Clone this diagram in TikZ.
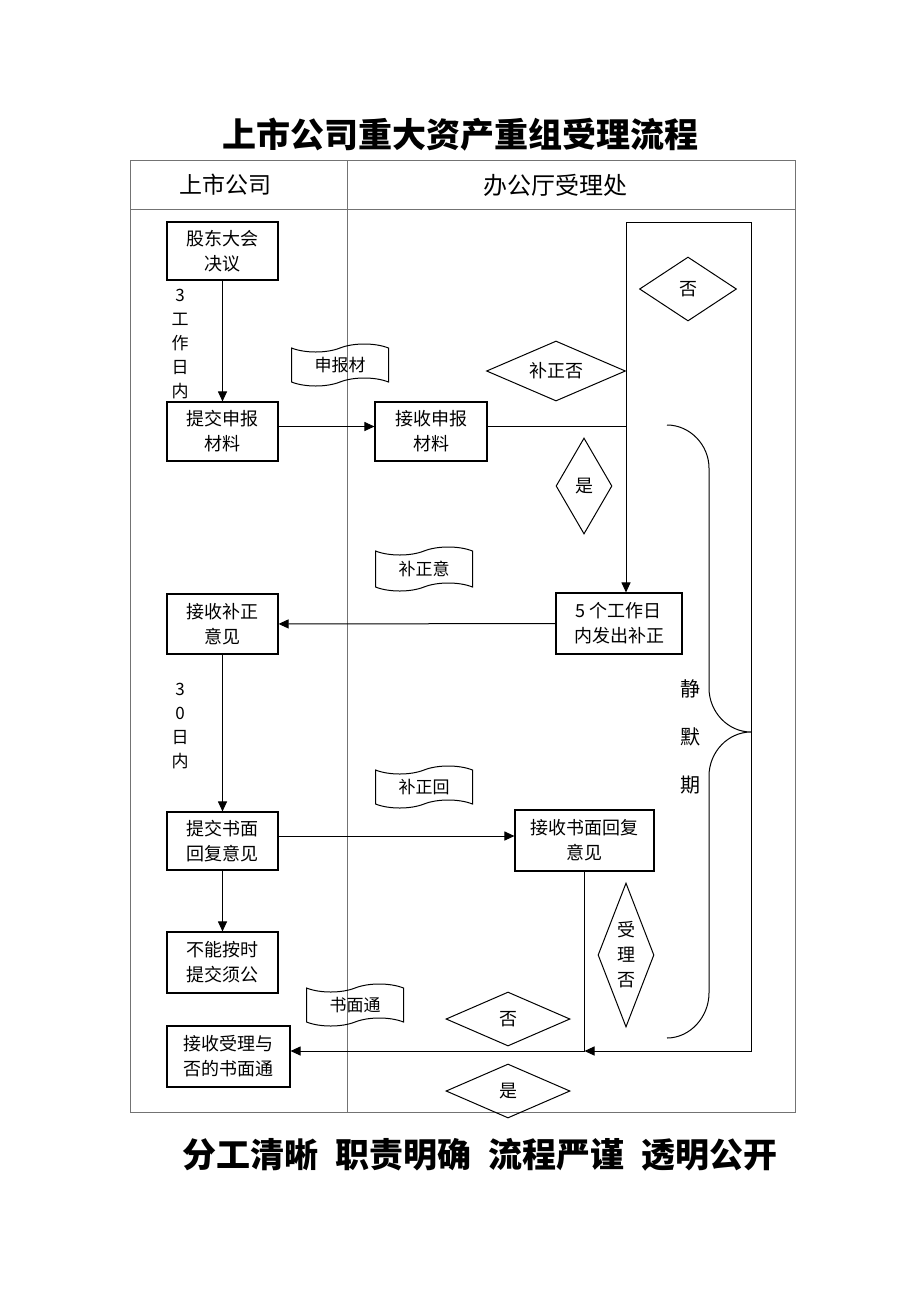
\documentclass[tikz,border=0pt]{standalone}
\usepackage{fontspec}
\newfontfamily\cjk{Noto Sans CJK SC}
\usetikzlibrary{shapes.geometric,shapes.symbols,arrows.meta}

\tikzset{
  box/.style={draw, line width=1.1pt, align=center, inner sep=1pt,
    minimum width=111pt, minimum height=59pt,
    font=\cjk\fontsize{18}{25}\selectfont},
  choice/.style={draw, diamond, line width=1pt, inner sep=0pt,
    label={[font=\cjk\fontsize{18}{25}\selectfont, align=center]center:#1}},
  paper/.style={draw, tape, tape bend height=8pt, line width=1pt,
    minimum width=97pt, minimum height=42pt,
    font=\cjk\fontsize{17}{22}\selectfont},
  flow/.style={line width=1pt, -{Triangle[length=10pt,width=9pt]}},
  lane/.style={line width=0.9pt, black!55},
  note/.style={font=\cjk\fontsize{17}{24}\selectfont, align=center}
}

\begin{document}
\begin{tikzpicture}[x=1pt, y=-1pt]
\useasboundingbox (0,0) rectangle (920,1302);

% ----------------------------------------------------------
% Title and lanes
% ----------------------------------------------------------
\node[font=\cjk\bfseries\fontsize{34}{40}\selectfont] (title) at (460,135) {上市公司重大资产重组受理流程};

\draw[lane] (130,160) rectangle (795,1112);
\draw[lane] (130,209) -- (795,209);
\draw[lane] (347,160) -- (347,1112);
\node[font=\cjk\fontsize{23}{28}\selectfont] (laneA) at (225,185) {上市公司};
\node[font=\cjk\fontsize{24}{28}\selectfont] (laneB) at (555,185) {办公厅受理处};

% ----------------------------------------------------------
% Listed company
% ----------------------------------------------------------
\node[box, minimum height=58pt] (meeting) at (222.5,251) {股东大会\\决议};
\node[box] (submit) at (222.5,431.5) {提交申报\\材料};
\node[box, minimum height=60pt] (getnote) at (222.5,624) {接收补正\\意见};
\node[box, minimum height=58pt] (reply) at (222.5,841) {提交书面\\回复意见};
\node[box, minimum height=61pt] (late) at (222.5,962.5) {不能按时\\提交须公};
\node[box, minimum width=123pt, minimum height=61pt] (result) at (228.5,1056.5) {接收受理与\\否的书面通};

\node[note] (daysA) at (180,344) {3\\工\\作\\日\\内};
\node[note] (daysB) at (180,726) {3\\0\\日\\内};

% ----------------------------------------------------------
% Office
% ----------------------------------------------------------
\node[box, minimum width=112pt] (receive) at (431,431.5) {接收申报\\材料};
\node[box, minimum width=126pt, minimum height=61pt] (notice) at (619,623.5) {5 个工作日\\内发出补正};
\node[box, minimum width=139pt, minimum height=61pt] (getreply) at (584.5,840.5) {接收书面回复\\意见};

\node[choice={否}, minimum width=97pt, minimum height=64pt] (noA) at (688,289) {};
\node[choice={补正否}, minimum width=139pt, minimum height=60pt] (fix) at (556,371) {};
\node[choice={是}, minimum width=56pt, minimum height=96pt] (yesA) at (584,486) {};
\node[choice={受\\理\\否}, minimum width=56pt, minimum height=144pt] (accept) at (626,955) {};
\node[choice={否}, minimum width=124pt, minimum height=54pt] (noB) at (508,1019) {};
\node[choice={是}, minimum width=124pt, minimum height=54pt] (yesB) at (508,1091) {};

\node[paper] (docA) at (340,365) {申报材};
\node[paper, minimum height=44pt] (docB) at (424,569) {补正意};
\node[paper] (docC) at (424,787) {补正回};
\node[paper] (docD) at (355,1005) {书面通};

\node[font=\cjk\fontsize{20}{24}\selectfont, align=center] (quiet) at (690,737) {静\\[24pt]默\\[24pt]期};

% ----------------------------------------------------------
% Connectors
% ----------------------------------------------------------
\coordinate (topL) at (626,222);
\coordinate (topR) at (751,222);
\coordinate (botR) at (751,1051);
\coordinate (back) at (584.5,1051);

\draw[flow] (meeting) -- (submit);
\draw[flow] ([yshift=5pt]submit.east) -- ([yshift=5pt]receive.west);
\draw[line width=1pt] ([yshift=5pt]receive.east) -- ([yshift=5pt]receive.east -| topL);
\draw[flow] (topR) -- (topL) -- (topL |- notice.north);
\draw[flow] (notice) -- (getnote);
\draw[flow] (getnote) -- (reply);
\draw[flow] ([yshift=5pt]reply.east) -- ([yshift=5pt]reply.east -| getreply.west);
\draw[flow] (reply) -- (late);
\draw[line width=1pt] (getreply.south) -- (back);
\draw[flow] (topR) -- (botR) -- (back);
\draw[flow] (back) -- (back -| result.east);

% brace of the quiet period
\draw[line width=1pt] (667,425) .. controls (690,425) and (709,445) .. (709,468)
  -- (709,688) .. controls (709,712) and (728,732) .. (751,732)
  .. controls (728,732) and (709,752) .. (709,776)
  -- (709,993) .. controls (709,1017) and (690,1038) .. (667,1038);

% ----------------------------------------------------------
% Motto
% ----------------------------------------------------------
\node[font=\cjk\bfseries\fontsize{34}{40}\selectfont] (motto) at (480,1155)
  {分工清晰\hspace{17pt}职责明确\hspace{17pt}流程严谨\hspace{17pt}透明公开};

\end{tikzpicture}
\end{document}
